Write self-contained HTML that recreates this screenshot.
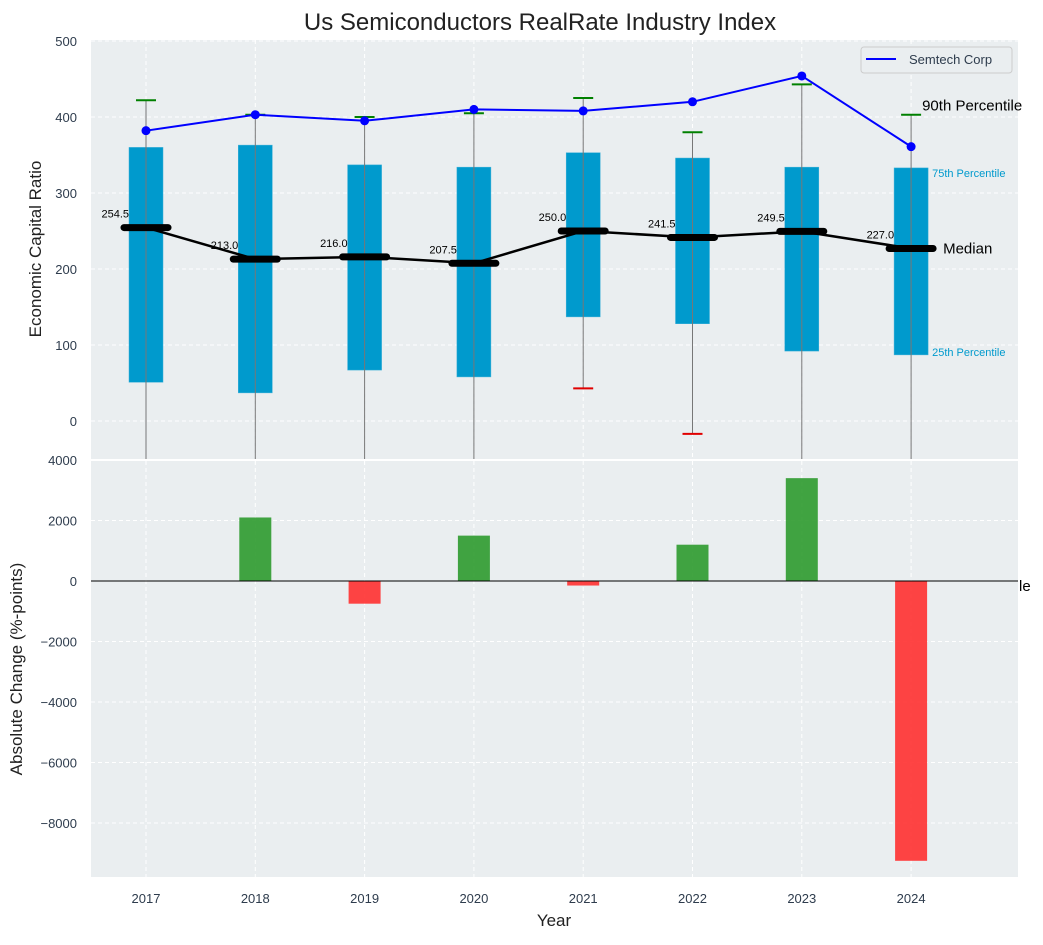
<!DOCTYPE html>
<html><head><meta charset="utf-8"><style>
body{margin:0;background:#fff;font-family:"Liberation Sans","DejaVu Sans",sans-serif;}
svg text{font-family:"Liberation Sans","DejaVu Sans",sans-serif;}
</style></head><body>
<svg id="c" width="1043" height="940" xmlns="http://www.w3.org/2000/svg"></svg>
<script>
const years=[2017,2018,2019,2020,2021,2022,2023,2024];
const q25=[51,37,67,58,137,128,92,87];
const q75=[360,363,337,334,353,346,334,333];
const medians=[254.5,213.0,216.0,207.5,250.0,241.5,249.5,227.0];
const p90=[422,403,400,405,425,380,443,403];
const p10=[-120,-120,-120,-120,43,-17,-120,-120];
const semtech=[382,403,395,410,408,420,454,361];
const changes=[0,2100,-750,1500,-150,1200,3400,-9250];
const topTicks=[0,100,200,300,400,500];
const botTicks=[-8000,-6000,-4000,-2000,0,2000,4000];

const NS="http://www.w3.org/2000/svg";
const svg=document.getElementById('c');
function el(t,a,p){const e=document.createElementNS(NS,t);for(const k in a)e.setAttribute(k,a[k]);(p||svg).appendChild(e);return e;}
const L=91,R=1018,T1=40,B1=459,T2=461,B2=877;
const x=v=>146+(v-2017)*109.3;
const y1=v=>421-v*0.76;
const y2=v=>581-v*0.03025;

// backgrounds
let bg1=el('rect',{x:L,y:T1,width:R-L,height:B1-T1,fill:'#eaeef0'});

let bg2=el('rect',{x:L,y:T2,width:R-L,height:B2-T2,fill:'#eaeef0'});


const clip=el('clipPath',{id:'cp1'});el('rect',{x:L,y:T1,width:R-L,height:B1-T1},clip);
const clip2=el('clipPath',{id:'cp2'});el('rect',{x:L,y:T2,width:R-L,height:B2-T2},clip2);
const g1=el('g',{'clip-path':'url(#cp1)'});
const g2=el('g',{'clip-path':'url(#cp2)'});

// grids
years.forEach(v=>{
 el('line',{x1:x(v),x2:x(v),y1:T1,y2:B1,stroke:'#fff','stroke-dasharray':'4,3','stroke-width':1},g1);
 el('line',{x1:x(v),x2:x(v),y1:T2,y2:B2,stroke:'#fff','stroke-dasharray':'4,3','stroke-width':1},g2);
 const t=el('text',{x:x(v),y:903,'text-anchor':'middle','font-size':13,fill:'#2e3c4d'});t.textContent=v;
 
});
topTicks.forEach(v=>{
 el('line',{x1:L,x2:R,y1:y1(v),y2:y1(v),stroke:'#fff','stroke-dasharray':'4,3'},g1);
 const t=el('text',{x:77,y:y1(v)+5,'text-anchor':'end','font-size':13,fill:'#2e3c4d'});t.textContent=v;
 
});
botTicks.forEach(v=>{
 el('line',{x1:L,x2:R,y1:y2(v),y2:y2(v),stroke:'#fff','stroke-dasharray':'4,3'},g2);
 const t=el('text',{x:77,y:y2(v)+5,'text-anchor':'end','font-size':13,fill:'#2e3c4d'});t.textContent=String(v).replace('-','\u2212');
 
});

// boxes
years.forEach((v,i)=>{
 const r=el('rect',{x:x(v)-17,y:y1(q75[i]),width:34,height:y1(q25[i])-y1(q75[i]),fill:'#009acd',stroke:'#3cb0d8','stroke-width':0.5},g1);
 
 const w=el('line',{x1:x(v),x2:x(v),y1:y1(p90[i]),y2:y1(p10[i]),stroke:'#777','stroke-width':1},g1);
 
 const c=el('line',{x1:x(v)-10,x2:x(v)+10,y1:y1(p90[i]),y2:y1(p90[i]),stroke:'#008000','stroke-width':2},g1);
 
 const c2=el('line',{x1:x(v)-10,x2:x(v)+10,y1:y1(p10[i]),y2:y1(p10[i]),stroke:'#e00000','stroke-width':2},g1);
 
});
// median line
const mp=el('polyline',{points:years.map((v,i)=>x(v)+','+y1(medians[i])).join(' '),fill:'none',stroke:'#000','stroke-width':2.5},g1);

years.forEach((v,i)=>{
 const m=el('line',{x1:x(v)-22,x2:x(v)+22,y1:y1(medians[i]),y2:y1(medians[i]),stroke:'#000','stroke-width':7,'stroke-linecap':'round'},g1);
 
 const t=el('text',{x:x(v)-17,y:y1(medians[i])-10,'text-anchor':'end','font-size':11,fill:'#000'});t.textContent=medians[i].toFixed(1);
 
});
// semtech
const sp=el('polyline',{points:years.map((v,i)=>x(v)+','+y1(semtech[i])).join(' '),fill:'none',stroke:'#0000ff','stroke-width':2},g1);

years.forEach((v,i)=>{
 const d=el('circle',{cx:x(v),cy:y1(semtech[i]),r:4.5,fill:'#0000ff'},g1);
 
});
// annotations
const last=years.length-1;
[['90th Percentile',x(years[last])+11,y1(p90[last])-4,15,'#000','label-90th'],
 ['75th Percentile',x(years[last])+21,y1(q75[last])+9,11,'#009acd','label-75th'],
 ['Median',x(years[last])+32,y1(medians[last])+5,15,'#000','label-median'],
 ['25th Percentile',x(years[last])+21,y1(q25[last])+1,11,'#009acd','label-25th']].forEach(a=>{
 const t=el('text',{x:a[1],y:a[2],'font-size':a[3],fill:a[4]});t.textContent=a[0];
 
});
// bottom bars
years.forEach((v,i)=>{
 const c=changes[i];const y0=y2(Math.max(c,0)),h=Math.abs(y2(c)-y2(0));
 const b=el('rect',{x:x(v)-16,y:y0,width:32,height:h,fill:c>=0?'#2e9a2e':'#ff3030','fill-opacity':0.9},g2);
 
});
el('line',{x1:L,x2:R,y1:y2(0),y2:y2(0),stroke:'#000','stroke-width':1});
let le=el('text',{x:1019,y:y2(0)+10,'font-size':15,fill:'#000'});le.textContent='le';


// legend
const lg=el('g',{});
el('rect',{x:861,y:47,width:151,height:26,rx:3,fill:'#eaeef0',stroke:'#ccc'},lg);
el('line',{x1:866,x2:896,y1:59,y2:59,stroke:'#0000ff','stroke-width':2},lg);
let lt=el('text',{x:909,y:64,'font-size':13,fill:'#2e3c4d'},lg);lt.textContent='Semtech Corp';

// titles
let tt=el('text',{x:540,y:30,'text-anchor':'middle','font-size':24,fill:'#222'});tt.textContent='Us Semiconductors RealRate Industry Index';

let ya=el('text',{x:0,y:0,'text-anchor':'middle','font-size':17,fill:'#222',transform:'translate(41,249) rotate(-90)'});ya.textContent='Economic Capital Ratio';

let yb=el('text',{x:0,y:0,'text-anchor':'middle','font-size':17,fill:'#222',transform:'translate(22,669) rotate(-90)'});yb.textContent='Absolute Change (%-points)';

let xa=el('text',{x:554,y:926,'text-anchor':'middle','font-size':17,fill:'#222'});xa.textContent='Year';

</script>
</body></html>
